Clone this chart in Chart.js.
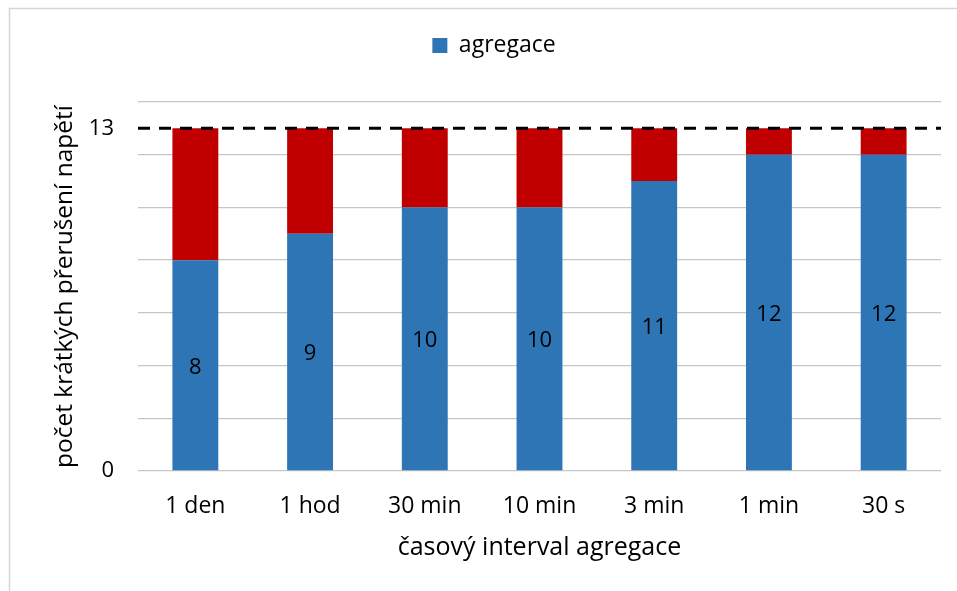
<!DOCTYPE html>
<html>
<head>
<meta charset="utf-8">
<script src="https://cdn.jsdelivr.net/npm/chart.js@4.4.1/dist/chart.umd.min.js"></script>
<style>
  html, body { margin: 0; padding: 0; background: #fff; }
  #wrap { width: 957px; height: 591px; position: relative; }
</style>
</head>
<body>
<div id="wrap"><canvas id="chart" width="957" height="591"></canvas></div>
<script>
// data
const categories = ["1 den", "1 hod", "30 min", "10 min", "3 min", "1 min", "30 s"];
const agregace = [8, 9, 10, 10, 11, 12, 12];
const zbytek = [5, 4, 3, 3, 2, 1, 1];
const threshold = 13;
const yLabelTicks = [0, 13];

const FONT = "'Open Sans', sans-serif";

// light frame on top/left edge of the picture
const framePlugin = {
  id: "frame",
  beforeDraw(chart) {
    const c = chart.ctx;
    c.save();
    c.strokeStyle = "#d6d6d6";
    c.lineWidth = 1.5;
    c.beginPath();
    c.moveTo(9.5, chart.height);
    c.lineTo(9.5, 8.5);
    c.lineTo(chart.width, 8.5);
    c.stroke();
    c.restore();
  }
};

// leave some room under the legend, as in the original
const legendGapPlugin = {
  id: "legendGap",
  beforeLayout(chart) {
    const lg = chart.legend;
    if (lg && !lg._gapPatched) {
      const fit = lg.fit;
      lg.fit = function () {
        fit.call(this);
        this.height += 35;
      };
      lg._gapPatched = true;
    }
  }
};

// dashed line at 13 across the plot area
const thresholdPlugin = {
  id: "threshold",
  afterDatasetsDraw(chart) {
    const y = chart.scales.y.getPixelForValue(threshold);
    const { left, right } = chart.chartArea;
    const c = chart.ctx;
    c.save();
    c.strokeStyle = "#000";
    c.lineWidth = 3;
    c.setLineDash([12, 9]);
    c.beginPath();
    c.moveTo(left, y);
    c.lineTo(right, y);
    c.stroke();
    c.restore();
  }
};

// values in the middle of the blue bars
const valuePlugin = {
  id: "values",
  afterDatasetsDraw(chart) {
    const meta = chart.getDatasetMeta(0);
    const c = chart.ctx;
    c.save();
    c.font = "22px " + FONT;
    c.fillStyle = "#000";
    c.textAlign = "center";
    c.textBaseline = "middle";
    meta.data.forEach((bar, i) => {
      c.fillText(String(agregace[i]), bar.x, (bar.y + bar.base) / 2 + 2);
    });
    c.restore();
  }
};

new Chart(document.getElementById("chart"), {
  type: "bar",
  data: {
    labels: categories,
    datasets: [
      { label: "agregace", data: agregace, backgroundColor: "#2E75B6" },
      { label: "zbytek", data: zbytek, backgroundColor: "#C00000" }
    ]
  },
  options: {
    responsive: false,
    animation: false,
    layout: { padding: { left: 47, right: 16, top: 24, bottom: 0 } },
    datasets: { bar: { categoryPercentage: 1, barPercentage: 0.4 } },
    scales: {
      x: {
        stacked: true,
        grid: { display: false },
        border: { display: false },
        ticks: { color: "#000", font: { family: FONT, size: 23 }, padding: 14 },
        title: {
          display: true,
          text: "časový interval agregace",
          color: "#000",
          font: { family: FONT, size: 25 },
          padding: 28
        },
        afterFit(scale) { scale.height = 120; }
      },
      y: {
        stacked: true,
        min: 0,
        max: 14,
        border: { display: false },
        grid: {
          drawTicks: false,
          color: (ctx) => (ctx.tick && ctx.tick.value === threshold ? "rgba(0,0,0,0)" : "#c6c6c6"),
          lineWidth: 1.3
        },
        afterBuildTicks(scale) {
          scale.ticks = [0, 2, 4, 6, 8, 10, 12, 13, 14].map((v) => ({ value: v }));
        },
        ticks: {
          color: "#000",
          font: { family: FONT, size: 22 },
          padding: 24,
          callback: (v) => (yLabelTicks.includes(v) ? String(v) : "")
        },
        title: {
          display: true,
          text: "počet krátkých přerušení napětí",
          color: "#000",
          font: { family: FONT, size: 24.5 },
          padding: 3
        },
        afterFit(scale) { scale.width = 91; }
      }
    },
    plugins: {
      legend: {
        position: "top",
        labels: {
          color: "#000",
          font: { family: FONT, size: 23 },
          boxWidth: 15,
          boxHeight: 15,
          padding: 10,
          filter: (item) => item.datasetIndex === 0
        }
      },
      tooltip: { enabled: false }
    }
  },
  plugins: [framePlugin, legendGapPlugin, thresholdPlugin, valuePlugin]
});
</script>
</body>
</html>
